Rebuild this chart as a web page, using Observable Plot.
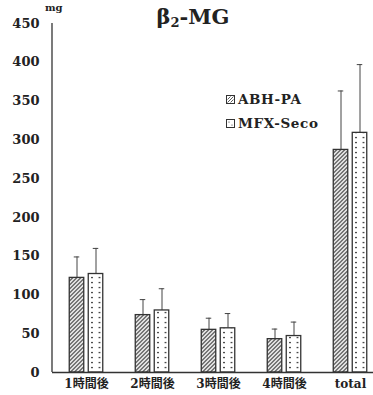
<!DOCTYPE html>
<html>
<head>
<meta charset="utf-8">
<script src="https://cdn.jsdelivr.net/npm/d3@7"></script>
<script src="https://cdn.jsdelivr.net/npm/@observablehq/plot@0.6"></script>
<style>
  html, body { margin: 0; padding: 0; background: #fff; }
  #wrap { position: relative; width: 373px; height: 395px; font-family: "DejaVu Serif", "Noto Sans CJK JP", serif; font-weight: bold; color: #222; }
  #title { position: absolute; left: 0; width: 386px; top: 4px; text-align: center; font-size: 21px; }
  #title sub { font-size: 13px; vertical-align: -3px; line-height: 0; }
  #unit { position: absolute; left: 45px; top: 2px; font-size: 10px; }
  .leg { position: absolute; left: 226px; font-size: 13.5px; letter-spacing: 0.6px; display: flex; align-items: center; }
  .leg svg { margin-right: 3px; }
  #plot { position: absolute; left: 0; top: 0; }
</style>
</head>
<body>
<div id="wrap">
  <div id="plot"></div>
  <div id="title">β<sub>2</sub>-MG</div>
  <div id="unit">mg</div>
  <div class="leg" style="top:91px"><svg width="9" height="9"><rect x="0.5" y="0.5" width="8" height="8" fill="#fff" stroke="#333"/><path d="M1.5,7.5 L7.5,1.5 M1.5,4.5 L4.5,1.5 M4.5,7.5 L7.5,4.5" stroke="#333" stroke-width="0.8"/></svg>ABH-PA</div>
  <div class="leg" style="top:115px"><svg width="9" height="9"><rect x="0.5" y="0.5" width="8" height="8" fill="#fff" stroke="#333"/><circle cx="3" cy="3" r="0.6" fill="#333"/><circle cx="6" cy="6" r="0.6" fill="#333"/></svg>MFX-Seco</div>
</div>
<script>
const categories = ["1時間後", "2時間後", "3時間後", "4時間後", "total"];
const abhMean = [122, 74, 55, 43, 287];
const abhSD   = [27, 20, 15, 13, 76];
const mfxMean = [127, 80, 57, 47, 309];
const mfxSD   = [33, 28, 19, 18, 88];
const yTicks  = [0, 50, 100, 150, 200, 250, 300, 350, 400, 450];

const abh = categories.map((c, i) => ({cat: c, mean: abhMean[i], top: abhMean[i] + abhSD[i]}));
const mfx = categories.map((c, i) => ({cat: c, mean: mfxMean[i], top: mfxMean[i] + mfxSD[i]}));

const step = 66.5, barW = 15, off = 9.5, capW = 6;
const barInset = (step - barW) / 2, capInset = (step - capW) / 2;
const W = 373, H = 395, mL = 52, mT = 23, mB = 23;

const leftAxisLine = (index, scales, values, dimensions) =>
  d3.create("svg:line")
    .attr("x1", dimensions.marginLeft).attr("x2", dimensions.marginLeft)
    .attr("y1", dimensions.marginTop).attr("y2", dimensions.height - dimensions.marginBottom)
    .attr("stroke", "#333").attr("stroke-width", 1.3).node();

const svg = Plot.plot({
  width: W, height: H,
  marginLeft: mL, marginRight: 0, marginTop: mT, marginBottom: mB,
  style: {fontFamily: '"DejaVu Serif", "Noto Sans CJK JP", serif', fontWeight: "bold", fontSize: "12px", color: "#222", background: "transparent"},
  x: {type: "band", domain: categories, range: [mL, mL + step * categories.length], padding: 0, label: null},
  y: {domain: [0, 450], label: null},
  marks: [
    Plot.axisY(yTicks, {tickSize: 0, tickPadding: 13, fontSize: 13, label: null}),
    Plot.axisX({tickSize: 0, tickPadding: 7, fontSize: 12, label: null}),
    Plot.ruleX(abh, {x: "cat", y1: "mean", y2: "top", dx: -off, stroke: "#444", strokeWidth: 1}),
    Plot.tickY(abh, {x: "cat", y: "top", dx: -off, insetLeft: capInset, insetRight: capInset, stroke: "#444", strokeWidth: 1}),
    Plot.ruleX(mfx, {x: "cat", y1: "mean", y2: "top", dx: off, stroke: "#444", strokeWidth: 1}),
    Plot.tickY(mfx, {x: "cat", y: "top", dx: off, insetLeft: capInset, insetRight: capInset, stroke: "#444", strokeWidth: 1}),
    Plot.barY(abh, {x: "cat", y: "mean", dx: -off, insetLeft: barInset, insetRight: barInset, fill: "url(#hatch)", stroke: "#333", strokeWidth: 1.3}),
    Plot.barY(mfx, {x: "cat", y: "mean", dx: off, insetLeft: barInset, insetRight: barInset, fill: "url(#dots)", stroke: "#333", strokeWidth: 1.3}),
    Plot.ruleY([0], {stroke: "#333", strokeWidth: 1.3}),
    leftAxisLine
  ]
});

const s = d3.select(svg);
const defs = s.insert("defs", ":first-child");
const hp = defs.append("pattern").attr("id", "hatch").attr("patternUnits", "userSpaceOnUse")
  .attr("width", 4).attr("height", 4);
hp.append("rect").attr("width", 4).attr("height", 4).attr("fill", "#fff");
hp.append("path").attr("d", "M-1,1 L1,-1 M0,4 L4,0 M3,5 L5,3").attr("stroke", "#222").attr("stroke-width", 1.1);

s.selectAll('g[fill="url(#dots)"] rect').each(function(d, i) {
  const r = d3.select(this);
  const x = +r.attr("x");
  const id = "dots" + i;
  const p = defs.append("pattern").attr("id", id).attr("patternUnits", "userSpaceOnUse")
    .attr("x", x).attr("y", 0).attr("width", barW / 2).attr("height", 5);
  p.append("rect").attr("width", barW / 2).attr("height", 5).attr("fill", "#fff");
  p.append("circle").attr("cx", barW / 4).attr("cy", 2.5).attr("r", 0.85).attr("fill", "#222");
  r.attr("fill", `url(#${id})`);
});

document.getElementById("plot").appendChild(svg);
</script>
</body>
</html>
